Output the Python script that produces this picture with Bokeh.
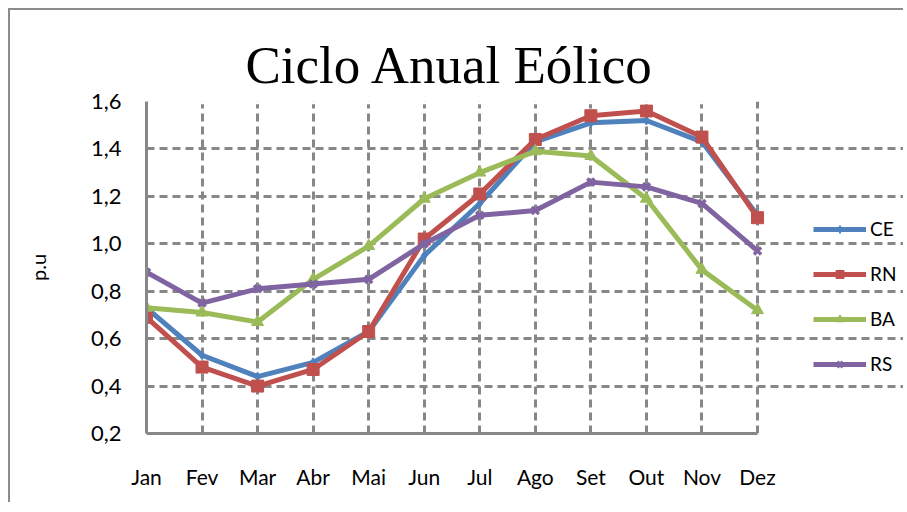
from bokeh.plotting import figure
from bokeh.models import (Range1d, FixedTicker, CustomJSTickFormatter, Legend, LegendItem,
                          BoxAnnotation, Title)
from bokeh.embed import file_html
from bokeh.resources import INLINE

months = ["Jan", "Fev", "Mar", "Abr", "Mai", "Jun", "Jul", "Ago", "Set", "Out", "Nov", "Dez"]
CE = [0.73, 0.53, 0.44, 0.50, 0.63, 0.95, 1.17, 1.43, 1.51, 1.52, 1.43, 1.12]
RN = [0.69, 0.48, 0.40, 0.47, 0.63, 1.02, 1.21, 1.44, 1.54, 1.56, 1.45, 1.11]
BA = [0.73, 0.71, 0.67, 0.85, 0.99, 1.19, 1.30, 1.39, 1.37, 1.19, 0.89, 0.72]
RS = [0.88, 0.75, 0.81, 0.83, 0.85, 1.00, 1.12, 1.14, 1.26, 1.24, 1.17, 0.97]
y_ticks = [0.2, 0.4, 0.6, 0.8, 1.0, 1.2, 1.4, 1.6]
title_text = "Ciclo Anual Eólico"
y_label = "p.u"

GRID = "#878787"
FONT = "Lato"

x = list(range(len(months)))
last = len(months) - 1
# extra room to the right of the last month holds the legend
x_end = last * 757 / 611

p = figure(width=895, height=494, output_backend="svg", toolbar_location=None,
           x_range=Range1d(0, x_end), y_range=Range1d(y_ticks[0], y_ticks[-1]),
           min_border_left=136, min_border_right=2, min_border_top=91, min_border_bottom=71)
p.styles = {"border-left": "2px solid #8c8c8c", "border-top": "2px solid #8c8c8c",
            "margin-left": "8px", "margin-top": "8px"}
p.outline_line_color = None

t = Title(text=title_text, text_font="Liberation Serif", text_font_size="53px",
          text_font_style="normal", align="left", offset=99, text_color="#000000", standoff=16)
p.add_layout(t, "above")

# axes
p.xaxis.ticker = FixedTicker(ticks=x)
p.xaxis.bounds = (0, last)
p.xaxis.major_label_overrides = {i: m for i, m in enumerate(months)}
p.yaxis.ticker = FixedTicker(ticks=y_ticks)
p.yaxis.formatter = CustomJSTickFormatter(code="return tick.toFixed(1).replace('.', ',');")
for ax in (p.xaxis[0], p.yaxis[0]):
    ax.axis_line_color = GRID
    ax.axis_line_width = 3
    ax.major_tick_line_color = None
    ax.minor_tick_line_color = None
    ax.major_label_text_font = FONT
    ax.major_label_text_font_size = "21px"
    ax.major_label_text_color = "#000000"
p.yaxis.major_label_text_font_size = "22px"
p.xaxis.major_label_standoff = 24
p.yaxis.major_label_standoff = 19
p.yaxis.axis_label = y_label
p.yaxis.axis_label_text_font = FONT
p.yaxis.axis_label_text_font_size = "20px"
p.yaxis.axis_label_text_font_style = "normal"
p.yaxis.axis_label_text_color = "#000000"
p.yaxis.axis_label_standoff = 38

# grids
p.xgrid.ticker = FixedTicker(ticks=x)
p.ygrid.ticker = FixedTicker(ticks=y_ticks)
p.ygrid.bounds = (0, last)
for g in (p.xgrid[0], p.ygrid[0]):
    g.grid_line_color = GRID
    g.grid_line_width = 3
    g.grid_line_dash = "8 5"

# white title box covering the top gridline
p.add_layout(BoxAnnotation(left=0.52, right=10.3, bottom=1.588, top=1.75,
                           fill_color="white", fill_alpha=1.0, line_color=None, level="guide"))

series = [
    ("CE", CE, "#4F81BD", "diamond", 9),
    ("RN", RN, "#C0504D", "square", 12),
    ("BA", BA, "#9BBB59", "triangle", 12),
    ("RS", RS, "#8064A2", "x", 10),
]
items = []
for name, vals, col, mk, sz in series:
    r1 = p.line(x, vals, line_color=col, line_width=5, line_join="round")
    if mk == "x":
        r2 = p.scatter(x, vals, marker=mk, size=sz, line_color=col, line_width=3.5)
    else:
        r2 = p.scatter(x, vals, marker=mk, size=sz, fill_color=col, line_color=col)
    items.append(LegendItem(label=name, renderers=[r1, r2]))

legend = Legend(items=items, location=(667, 58), padding=0, spacing=22,
                glyph_width=53, glyph_height=20, label_height=20, label_standoff=4,
                label_text_font=FONT, label_text_font_size="19px", label_text_color="#000000",
                border_line_color=None, background_fill_alpha=0, margin=0)
p.add_layout(legend, "center")

open("out.html", "w").write(file_html(p, INLINE))
